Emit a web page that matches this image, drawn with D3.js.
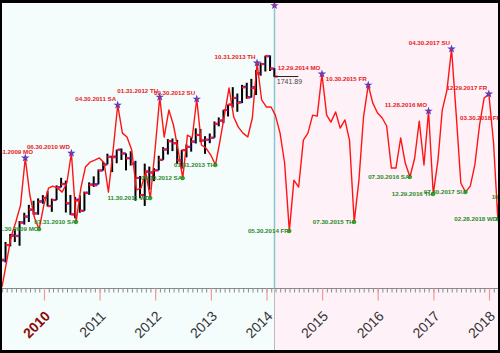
<!DOCTYPE html>
<html><head><meta charset="utf-8">
<script src="https://cdn.jsdelivr.net/npm/d3@7"></script>
<style>html,body{margin:0;padding:0;background:#fff;} svg{display:block}</style>
</head><body>
<svg id="c" width="500" height="353"></svg>
<script>
// ---------- DATA ----------
// Seasonal projection line, monthly values from Mar 2009 (month-end)
const seasonalStart = [2009, 3];
const seasonal = [
  656, 785, 919, 992, 1079, 1322, 1131, 1012, 955, 1079,
  1167, 1177, 1167, 1146, 1193, 1347, 992, 1167, 1275, 1301, 1311, 1322,
  1296, 1146, 1363, 1595, 1450, 1430, 1363, 1157, 1167, 1249, 1115, 1363,
  1636, 1430, 1569, 1492, 1363, 1218, 1440, 1425, 1626, 1389, 1373, 1337,
  1286, 1404, 1543, 1683, 1533, 1481, 1450, 1430, 1528, 1812, 1621, 1585,
  1585, 1543, 1450, 1296, 945, 1208, 1172, 1414, 1450, 1543, 1538, 1755,
  1543, 1507, 1559, 1476, 1518, 1414, 992, 1208, 1533, 1698, 1605, 1554,
  1528, 1487, 1270, 1270, 1425, 1296, 1224, 1322, 1512, 1286, 1564, 1136,
  1311, 1569, 1672, 1884, 1543, 1193, 1146, 1177, 1286, 1492, 1631, 1652,
  1399, 1007, 1497
];
// Monthly price bars from Mar 2009 to Feb 2014
const barStart = [2009, 3];
const barOpen = [
  729.57, 793.59, 872.74, 923.26, 920.82, 990.22, 1019.52, 1054.91, 1036.18, 1098.89,
  1116.56, 1073.89, 1105.36, 1171.23, 1188.58, 1087.30, 1031.10, 1107.53, 1049.72, 1143.49, 1185.71, 1186.60,
  1257.62, 1289.14, 1328.64, 1329.48, 1365.21, 1345.20, 1320.64, 1292.59, 1219.12, 1131.21, 1251.00, 1246.91,
  1258.86, 1312.45, 1365.90, 1408.47, 1397.86, 1309.87, 1362.33, 1379.32, 1406.54, 1440.90, 1412.20, 1416.18,
  1426.19, 1498.11, 1514.68, 1569.18, 1597.55, 1631.71, 1609.78, 1689.42, 1635.95, 1687.26, 1758.70, 1806.55,
  1845.86, 1782.68
];
const barHigh = [
  832.98, 888.70, 930.17, 956.23, 996.68, 1039.47, 1080.38, 1101.36, 1113.69, 1130.38,
  1150.45, 1112.42, 1180.69, 1219.80, 1205.13, 1131.23, 1120.95, 1129.24, 1148.67, 1196.14, 1227.08, 1262.60,
  1302.67, 1344.07, 1332.28, 1364.56, 1370.58, 1345.20, 1356.48, 1307.38, 1229.29, 1292.66, 1277.55, 1269.37,
  1333.47, 1378.04, 1419.15, 1422.38, 1415.32, 1363.46, 1391.74, 1426.68, 1474.51, 1470.96, 1434.27, 1448.00,
  1509.94, 1530.94, 1570.28, 1597.57, 1687.18, 1654.19, 1698.78, 1709.67, 1729.86, 1775.22, 1813.55, 1849.44,
  1850.84, 1784.83
];
const barLow = [
  666.79, 783.32, 866.10, 888.86, 869.32, 978.51, 991.97, 1029.38, 1029.38, 1085.89,
  1071.59, 1044.50, 1105.36, 1170.69, 1040.78, 1028.33, 1010.91, 1039.70, 1049.72, 1131.87, 1173.00, 1186.60,
  1257.62, 1289.14, 1249.05, 1294.70, 1311.80, 1258.07, 1282.86, 1101.54, 1114.22, 1074.77, 1158.66, 1202.37,
  1258.86, 1312.45, 1340.03, 1357.38, 1291.98, 1266.74, 1325.41, 1354.65, 1396.56, 1403.28, 1343.35, 1398.11,
  1426.19, 1485.01, 1501.48, 1536.03, 1581.28, 1560.33, 1604.57, 1627.47, 1633.41, 1646.47, 1746.20, 1767.99,
  1770.45, 1739.66
];
const barClose = [
  797.87, 872.81, 919.14, 919.32, 987.48, 1020.62, 1057.08, 1036.19, 1095.63, 1115.10,
  1073.87, 1104.49, 1169.43, 1186.69, 1089.41, 1030.71, 1101.60, 1049.33, 1141.20, 1183.26, 1180.55, 1257.64,
  1286.12, 1327.22, 1325.83, 1363.61, 1345.20, 1320.64, 1292.28, 1218.89, 1131.42, 1253.30, 1246.96, 1257.60,
  1312.41, 1365.68, 1408.47, 1397.91, 1310.33, 1362.16, 1379.32, 1406.58, 1440.67, 1412.16, 1416.18, 1426.19,
  1498.11, 1514.68, 1569.19, 1597.57, 1630.74, 1606.28, 1685.73, 1632.97, 1681.55, 1756.54, 1805.81, 1848.36,
  1782.59, 1741.89
];
// Labelled turning points: [label, "YYYY-MM" of the seasonal month]
const peakLabels = ["08.31.2009 MO","06.30.2010 WD","04.30.2011 SA","01.31.2012 TU","09.30.2012 SU",
  "10.31.2013 TH","12.29.2014 MO","10.30.2015 FR","11.28.2016 MO","04.30.2017 SU","12.29.2017 FR","03.30.2018 FR"];
const peakMonths = ["2009-08","2010-06","2011-04","2012-01","2012-09","2013-10","2014-12","2015-10",
  "2016-11","2017-04","2017-12","2018-03"];
const troughLabels = ["11.30.2009 MO","07.31.2010 SA","11.30.2011 WD","06.30.2012 SA","01.31.2013 TH",
  "05.30.2014 FR","07.30.2015 TH","07.30.2016 SA","12.29.2016 TH","07.30.2017 SU","02.28.2018 WD","10.31.2018 WD"];
const troughMonths = ["2009-11","2010-07","2011-11","2012-06","2013-01","2014-05","2015-07","2016-07",
  "2016-12","2017-07","2018-02","2018-10"];
const extraTroughValue = {"2018-10": 1120};
const yearTicks = [2010, 2011, 2012, 2013, 2014, 2015, 2016, 2017, 2018];
const highlightYear = 2010;
const todayDate = "2014-02-03";
const lastCloseText = "1741.89";

// ---------- LAYOUT ----------
const W = 500, H = 353;
const inner = {x0: 2, y0: 3, x1: 498, y1: 350};
const axisY = 288.5;
const svg = d3.select("#c");

const x = d3.scaleTime()
  .domain([new Date(2010, 0, 1), new Date(2018, 0, 1)])
  .range([44, 489]);
const y = d3.scaleLinear().domain([650, 2120]).range([288.3, 3.2]);

const monthEnd = (start, i) => new Date(start[0], start[1] - 1 + i + 1, 0);
const key = d => d.getFullYear() + "-" + String(d.getMonth() + 1).padStart(2, "0");
const today = new Date(todayDate + "T00:00:00");
const xToday = Math.round(x(today)) + 0.5 + 2;

// frame
svg.append("rect").attr("width", W).attr("height", H).attr("fill", "#000");
svg.append("defs").append("clipPath").attr("id", "clip")
  .append("rect").attr("x", inner.x0).attr("y", inner.y0)
  .attr("width", inner.x1 - inner.x0).attr("height", inner.y1 - inner.y0);
const g = svg.append("g").attr("clip-path", "url(#clip)");

g.append("rect").attr("x", inner.x0).attr("y", inner.y0)
  .attr("width", xToday - inner.x0).attr("height", inner.y1 - inner.y0).attr("fill", "#f4fcfc");
g.append("rect").attr("x", xToday).attr("y", inner.y0)
  .attr("width", inner.x1 - xToday).attr("height", inner.y1 - inner.y0).attr("fill", "#fef2f8");

// axis: monthly minor ticks and yearly ticks
const months = d3.timeMonth.range(x.invert(inner.x0), x.invert(inner.x1));
const minorAxis = d3.axisBottom(x).tickValues(months).tickSize(4).tickFormat("");
const ma = g.append("g").attr("transform", `translate(0,${axisY})`).call(minorAxis);
ma.select(".domain").remove();
ma.selectAll(".tick line").attr("stroke", "#8a8a8a");
g.append("line").attr("x1", inner.x0).attr("x2", inner.x1).attr("y1", axisY).attr("y2", axisY)
  .attr("stroke", "#8a8a8a").attr("stroke-width", 1.2);
const yearDates = yearTicks.map(v => new Date(v, 0, 1));
const yearAxis = d3.axisBottom(x).tickValues(yearDates).tickSize(12).tickFormat("");
const ya = g.append("g").attr("transform", `translate(0,${axisY})`).call(yearAxis);
ya.select(".domain").remove();
ya.selectAll(".tick line").attr("stroke", "#f29a9a").attr("stroke-width", 1.2);

g.selectAll("text.year").data(yearTicks).join("text")
  .attr("class", "year")
  .attr("transform", d => `translate(${x(new Date(d, 0, 1)) + 7},317) rotate(-45)`)
  .attr("text-anchor", "end")
  .attr("font-family", "Liberation Sans, Arial, sans-serif")
  .attr("font-size", 14)
  .attr("font-weight", d => d === highlightYear ? "bold" : "normal")
  .attr("fill", d => d === highlightYear ? "#8b0a0a" : "#333")
  .text(d => d);

// today line
g.append("line").attr("x1", xToday).attr("x2", xToday).attr("y1", inner.y0).attr("y2", axisY)
  .attr("stroke", "#86c6cc").attr("stroke-width", 1.5);

// price bars
const bars = barOpen.map((o, i) => ({
  d: monthEnd(barStart, i), o, h: barHigh[i], l: barLow[i], c: barClose[i]
}));
const bg = g.append("g");
bg.selectAll("line.hl").data(bars).join("line")
  .attr("x1", b => x(b.d) - 1).attr("x2", b => x(b.d) - 1)
  .attr("y1", b => y(b.h)).attr("y2", b => y(b.l))
  .attr("stroke", "#000").attr("stroke-width", 2);
bg.selectAll("line.o").data(bars).join("line")
  .attr("x1", b => x(b.d) - 4.5).attr("x2", b => x(b.d) - 1)
  .attr("y1", b => y(b.o)).attr("y2", b => y(b.o))
  .attr("stroke", "#1a1aff").attr("stroke-width", 2);
bg.selectAll("line.c").data(bars).join("line")
  .attr("x1", b => x(b.d) - 1).attr("x2", b => x(b.d) + 2.5)
  .attr("y1", b => y(b.c)).attr("y2", b => y(b.c))
  .attr("stroke", "#ff1a1a").attr("stroke-width", 2);

// last close marker
const lastBar = bars[bars.length - 1];
g.append("line").attr("x1", x(lastBar.d) - 1).attr("x2", x(lastBar.d) + 23)
  .attr("y1", y(lastBar.c)).attr("y2", y(lastBar.c)).attr("stroke", "#222").attr("stroke-width", 1);
g.append("text").attr("x", x(lastBar.d) + 1.5).attr("y", y(lastBar.c) + 7.5)
  .attr("font-family", "Liberation Sans, Arial, sans-serif").attr("font-size", 7)
  .attr("fill", "#444").text(lastCloseText);

// seasonal line
const sData = seasonal.map((v, i) => ({d: monthEnd(seasonalStart, i), v}));
const sByKey = new Map(sData.map(p => [key(p.d), p]));
g.append("path").datum(sData)
  .attr("d", d3.line().x(p => x(p.d)).y(p => y(p.v)))
  .attr("fill", "none").attr("stroke", "#ff1414").attr("stroke-width", 1.4)
  .attr("stroke-linejoin", "round");

const pointFor = (m) => {
  if (sByKey.has(m)) return sByKey.get(m);
  const [yy, mm] = m.split("-").map(Number);
  return {d: new Date(yy, mm, 0), v: extraTroughValue[m]};
};

const font = "Liberation Sans, Arial, sans-serif";
// peaks
const peaks = peakMonths.map((m, i) => ({p: pointFor(m), label: peakLabels[i]}));
g.selectAll("text.pk").data(peaks).join("text")
  .attr("x", d => Math.max(x(d.p.d) - 1.5, 33)).attr("y", d => y(d.p.v) - 4)
  .attr("text-anchor", "end").attr("font-family", font).attr("font-size", 6.2)
  .attr("font-weight", "bold").attr("fill", "#e82020").text(d => d.label);
g.selectAll("path.pk").data(peaks).join("path")
  .attr("transform", d => `translate(${x(d.p.d)},${y(d.p.v)})`)
  .attr("d", d3.symbol(d3.symbolStar, 22)).attr("fill", "#4a3cc8");
g.selectAll("circle.pk").data(peaks).join("circle")
  .attr("cx", d => x(d.p.d)).attr("cy", d => y(d.p.v)).attr("r", 0.9).attr("fill", "#ff2020");

// troughs
const troughs = troughMonths.map((m, i) => ({p: pointFor(m), label: troughLabels[i]}));
g.selectAll("text.tr").data(troughs).join("text")
  .attr("x", d => x(d.p.d) - 0.5).attr("y", d => y(d.p.v) + 2.2)
  .attr("text-anchor", "end").attr("font-family", font).attr("font-size", 6.2)
  .attr("font-weight", "bold").attr("fill", "#2a8a2a").text(d => d.label);
g.selectAll("circle.tr").data(troughs).join("circle")
  .attr("cx", d => x(d.p.d)).attr("cy", d => y(d.p.v)).attr("r", 1.8)
  .attr("fill", "#22b022").attr("stroke", "#136613").attr("stroke-width", 0.5);

// today marker at top
g.append("path").attr("transform", `translate(${xToday},${inner.y0 + 2.5})`)
  .attr("d", d3.symbol(d3.symbolStar, 22)).attr("fill", "#4a3cc8");
g.append("circle").attr("cx", xToday).attr("cy", inner.y0 + 2.5).attr("r", 1.2).attr("fill", "#ff2020");
</script>
</body></html>
